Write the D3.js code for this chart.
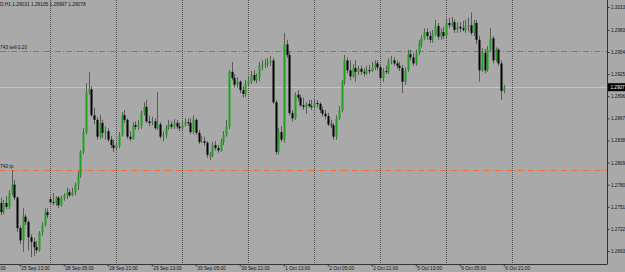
<!DOCTYPE html>
<html>
<head>
<meta charset="utf-8">
<script src="https://cdn.jsdelivr.net/npm/d3@7"></script>
<style>
  html, body { margin: 0; padding: 0; background: #a9a9a9; }
  svg { display: block; font-family: "Liberation Sans", Arial, sans-serif; }
</style>
</head>
<body>
<div class="chart"></div>
<script>
// GBPUSD H1, 25 Sep 06:00 .. 6 Oct 21:00 (one bar per hour, weekend skipped)
var open = [
  1.2756,1.2744,1.2756,1.2751,1.2769,1.2780,1.2763,1.2723,1.2707,1.2738,
  1.2731,1.2711,1.2705,1.2698,1.2694,1.2717,1.2727,1.2744,1.2761,1.2757,
  1.2756,1.2763,1.2753,1.2763,1.2766,1.2770,1.2766,1.2770,1.2780,1.2793,
  1.2823,1.2849,1.2901,1.2905,1.2871,1.2865,1.2843,1.2861,1.2848,1.2850,
  1.2839,1.2832,1.2828,1.2831,1.2845,1.2871,1.2865,1.2843,1.2840,1.2858,
  1.2856,1.2858,1.2874,1.2882,1.2863,1.2861,1.2863,1.2854,1.2859,1.2843,
  1.2845,1.2854,1.2859,1.2856,1.2861,1.2856,1.2854,1.2858,1.2862,1.2861,
  1.2849,1.2865,1.2848,1.2836,1.2837,1.2835,1.2816,1.2819,1.2832,1.2828,
  1.2825,1.2836,1.2845,1.2856,1.2928,1.2920,1.2911,1.2915,1.2904,1.2899,
  1.2912,1.2916,1.2924,1.2917,1.2921,1.2936,1.2937,1.2939,1.2941,1.2943,
  1.2888,1.2823,1.2849,1.2839,1.2964,1.2950,1.2874,1.2867,1.2898,1.2894,
  1.2884,1.2882,1.2886,1.2883,1.2882,1.2887,1.2886,1.2878,1.2873,1.2870,
  1.2859,1.2858,1.2843,1.2867,1.2878,1.2915,1.2943,1.2930,1.2922,1.2933,
  1.2928,1.2932,1.2928,1.2926,1.2930,1.2929,1.2933,1.2939,1.2934,1.2920,
  1.2929,1.2928,1.2942,1.2943,1.2939,1.2936,1.2933,1.2915,1.2930,1.2951,
  1.2947,1.2939,1.2953,1.2966,1.2972,1.2980,1.2975,1.2970,1.2977,1.2988,
  1.2974,1.2980,1.2975,1.2992,1.2989,1.2993,1.2983,1.2987,1.2985,1.2983,
  1.2987,1.2989,1.2979,1.2992,1.2970,1.2930,1.2953,1.2930,1.2957,1.2972,
  1.2943,1.2957,1.2939,1.2903
];
var high = [
  1.2763,1.2760,1.2765,1.2773,1.2799,1.2786,1.2765,1.2726,1.2749,1.2741,
  1.2734,1.2715,1.2710,1.2706,1.2719,1.2731,1.2749,1.2749,1.2765,1.2769,
  1.2765,1.2765,1.2766,1.2769,1.2776,1.2774,1.2776,1.2783,1.2797,1.2825,
  1.2854,1.2913,1.2928,1.2909,1.2881,1.2869,1.2871,1.2865,1.2856,1.2854,
  1.2844,1.2839,1.2836,1.2849,1.2875,1.2878,1.2867,1.2850,1.2862,1.2863,
  1.2865,1.2877,1.2888,1.2891,1.2870,1.2869,1.2867,1.2901,1.2862,1.2850,
  1.2858,1.2865,1.2863,1.2866,1.2865,1.2861,1.2863,1.2867,1.2867,1.2867,
  1.2871,1.2867,1.2852,1.2844,1.2843,1.2837,1.2823,1.2836,1.2837,1.2832,
  1.2840,1.2850,1.2865,1.2930,1.2941,1.2925,1.2921,1.2917,1.2909,1.2917,
  1.2922,1.2929,1.2930,1.2926,1.2941,1.2943,1.2945,1.2946,1.2949,1.2946,
  1.2891,1.2854,1.2857,1.2979,1.2970,1.2954,1.2878,1.2901,1.2904,1.2898,
  1.2894,1.2888,1.2891,1.2891,1.2892,1.2891,1.2888,1.2882,1.2878,1.2874,
  1.2865,1.2861,1.2871,1.2883,1.2917,1.2950,1.2947,1.2943,1.2938,1.2943,
  1.2936,1.2936,1.2933,1.2936,1.2937,1.2941,1.2943,1.2943,1.2938,1.2933,
  1.2936,1.2946,1.2949,1.2947,1.2943,1.2941,1.2937,1.2934,1.2957,1.2957,
  1.2953,1.2957,1.2970,1.2976,1.2985,1.2985,1.2981,1.2983,1.2996,1.2992,
  1.2985,1.2987,1.2997,1.2999,1.3000,1.2997,1.2993,1.2993,1.2995,1.2996,
  1.2999,1.3006,1.2996,1.2996,1.2975,1.2959,1.2958,1.2962,1.2985,1.2975,
  1.2960,1.2959,1.2943,1.2911
];
var low = [
  1.2740,1.2741,1.2748,1.2748,1.2766,1.2760,1.2718,1.2702,1.2692,1.2727,
  1.2694,1.2685,1.2686,1.2690,1.2692,1.2713,1.2725,1.2736,1.2755,1.2753,
  1.2752,1.2749,1.2751,1.2759,1.2761,1.2764,1.2765,1.2766,1.2773,1.2789,
  1.2820,1.2846,1.2898,1.2869,1.2859,1.2839,1.2840,1.2841,1.2839,1.2836,
  1.2828,1.2823,1.2825,1.2828,1.2843,1.2861,1.2840,1.2837,1.2839,1.2852,
  1.2852,1.2853,1.2871,1.2861,1.2857,1.2858,1.2852,1.2852,1.2840,1.2837,
  1.2841,1.2852,1.2853,1.2853,1.2853,1.2850,1.2852,1.2856,1.2857,1.2846,
  1.2846,1.2845,1.2833,1.2835,1.2831,1.2815,1.2812,1.2816,1.2825,1.2822,
  1.2823,1.2832,1.2843,1.2853,1.2917,1.2907,1.2907,1.2900,1.2894,1.2895,
  1.2909,1.2912,1.2915,1.2913,1.2916,1.2930,1.2933,1.2934,1.2936,1.2886,
  1.2819,1.2820,1.2836,1.2835,1.2946,1.2871,1.2863,1.2865,1.2890,1.2882,
  1.2878,1.2873,1.2881,1.2878,1.2879,1.2881,1.2874,1.2869,1.2866,1.2857,
  1.2854,1.2839,1.2839,1.2865,1.2875,1.2911,1.2926,1.2917,1.2920,1.2915,
  1.2924,1.2924,1.2922,1.2924,1.2925,1.2928,1.2930,1.2930,1.2917,1.2915,
  1.2925,1.2925,1.2938,1.2936,1.2932,1.2929,1.2900,1.2911,1.2928,1.2943,
  1.2936,1.2936,1.2950,1.2960,1.2970,1.2970,1.2966,1.2966,1.2975,1.2970,
  1.2970,1.2971,1.2972,1.2985,1.2987,1.2979,1.2979,1.2980,1.2981,1.2979,
  1.2981,1.2976,1.2975,1.2964,1.2915,1.2928,1.2926,1.2928,1.2954,1.2939,
  1.2941,1.2936,1.2891,1.2900
];
var close = [
  1.2744,1.2756,1.2751,1.2769,1.2780,1.2763,1.2723,1.2707,1.2738,1.2731,
  1.2711,1.2705,1.2698,1.2694,1.2717,1.2727,1.2744,1.2740,1.2757,1.2756,
  1.2763,1.2753,1.2763,1.2766,1.2770,1.2766,1.2770,1.2780,1.2793,1.2823,
  1.2849,1.2901,1.2905,1.2871,1.2865,1.2843,1.2861,1.2848,1.2850,1.2839,
  1.2832,1.2828,1.2831,1.2845,1.2871,1.2865,1.2843,1.2840,1.2858,1.2856,
  1.2858,1.2874,1.2882,1.2863,1.2861,1.2863,1.2854,1.2859,1.2843,1.2845,
  1.2854,1.2859,1.2856,1.2861,1.2856,1.2854,1.2858,1.2862,1.2861,1.2849,
  1.2865,1.2848,1.2836,1.2837,1.2835,1.2819,1.2819,1.2832,1.2828,1.2825,
  1.2836,1.2845,1.2856,1.2928,1.2920,1.2911,1.2915,1.2904,1.2899,1.2912,
  1.2916,1.2924,1.2917,1.2921,1.2936,1.2937,1.2939,1.2941,1.2943,1.2888,
  1.2823,1.2849,1.2839,1.2964,1.2950,1.2874,1.2867,1.2898,1.2894,1.2884,
  1.2882,1.2886,1.2883,1.2882,1.2887,1.2886,1.2878,1.2873,1.2870,1.2859,
  1.2858,1.2843,1.2867,1.2878,1.2915,1.2943,1.2930,1.2922,1.2933,1.2928,
  1.2932,1.2928,1.2926,1.2930,1.2929,1.2933,1.2939,1.2934,1.2920,1.2929,
  1.2928,1.2942,1.2943,1.2939,1.2936,1.2933,1.2915,1.2930,1.2951,1.2947,
  1.2939,1.2953,1.2966,1.2972,1.2980,1.2975,1.2970,1.2977,1.2988,1.2974,
  1.2980,1.2975,1.2992,1.2989,1.2993,1.2983,1.2987,1.2985,1.2983,1.2987,
  1.2989,1.2979,1.2992,1.2970,1.2930,1.2953,1.2930,1.2957,1.2972,1.2943,
  1.2957,1.2939,1.2903,1.2908
];

// bottom time labels (bar index -> label), day separators (bar index)
var timeBars   = [-9, 7, 23, 39, 55, 71, 87, 103, 119, 135, 151, 167, 183];
var timeLabels = ["24 Sep 21:00","25 Sep 13:00","28 Sep 05:00","28 Sep 21:00","29 Sep 13:00",
                  "30 Sep 05:00","30 Sep 21:00","1 Oct 13:00","2 Oct 05:00","2 Oct 21:00",
                  "5 Oct 13:00","6 Oct 05:00","6 Oct 21:00"];
var dayBars = [18, 42, 66, 90, 114, 138, 162, 186];

// right price scale labels
var priceTicks = [1.2693,1.2722,1.2751,1.2780,1.2809,1.2838,1.2867,1.2896,1.2925,1.2954,1.2983,1.3013];

// order lines and current bid
var sellLevel = 1.2955, tpLevel = 1.2799, bidPrice = 1.29078;
var header = "D,H1  1.29031 1.29105 1.28997 1.29078";

var W = 625, H = 272, axisX = 607, axisY = 264;

var svg = d3.select(".chart").append("svg")
  .attr("width", W).attr("height", H);

svg.append("rect").attr("width", W).attr("height", H).attr("fill", "#a9a9a9");

var x = d3.scaleLinear().domain([0, 186]).range([0.5, 512]);
var y = d3.scaleLinear().domain([1.2693, 1.3013]).range([251, 7]);

var plot = svg.append("g");
svg.append("clipPath").attr("id", "clip")
  .append("rect").attr("width", axisX).attr("height", axisY);
plot.attr("clip-path", "url(#clip)");

// vertical dotted grid
plot.selectAll(".grid").data(dayBars).enter().append("line")
  .attr("x1", function(d){ return Math.round(x(d)) + 0.5; })
  .attr("x2", function(d){ return Math.round(x(d)) + 0.5; })
  .attr("y1", 0).attr("y2", axisY)
  .attr("stroke", "#555").attr("stroke-dasharray", "1,1");

// order lines
plot.append("line")
  .attr("x1", 0).attr("x2", axisX)
  .attr("y1", Math.round(y(sellLevel)) + 0.5).attr("y2", Math.round(y(sellLevel)) + 0.5)
  .attr("stroke", "#4f9a4f").attr("stroke-dasharray", "6,2,1,2");
plot.append("line")
  .attr("x1", 0).attr("x2", axisX)
  .attr("y1", Math.round(y(tpLevel)) + 0.5).attr("y2", Math.round(y(tpLevel)) + 0.5)
  .attr("stroke", "#ee7040").attr("stroke-dasharray", "6,2,1,2");
plot.append("line")
  .attr("x1", 0).attr("x2", axisX)
  .attr("y1", Math.round(y(bidPrice)) + 0.5).attr("y2", Math.round(y(bidPrice)) + 0.5)
  .attr("stroke", "#c4c4c4");

plot.append("text").attr("x", 0).attr("y", y(sellLevel) - 2)
  .attr("font-size", "4.8px").attr("fill", "#111").text("743 sell 0.20");
plot.append("text").attr("x", 0).attr("y", y(tpLevel) - 2)
  .attr("font-size", "4.8px").attr("fill", "#111").text("743 tp");

// candles
var bars = d3.range(open.length);
plot.selectAll(".wick").data(bars).enter().append("line")
  .attr("x1", function(i){ return Math.round(x(i)) + 0.5; })
  .attr("x2", function(i){ return Math.round(x(i)) + 0.5; })
  .attr("y1", function(i){ return y(high[i]); })
  .attr("y2", function(i){ return y(low[i]); })
  .attr("stroke", "#5a5a5a").attr("stroke-width", 1);

plot.selectAll(".body").data(bars).enter().append("rect")
  .attr("x", function(i){ return Math.round(x(i)) - 0.5; })
  .attr("width", 2)
  .attr("y", function(i){ return y(Math.max(open[i], close[i])); })
  .attr("height", function(i){ return Math.max(1, Math.abs(y(open[i]) - y(close[i]))); })
  .attr("fill", function(i){ return close[i] >= open[i] ? "#1fa31f" : "#000"; });

// header text
svg.append("text").attr("x", 0).attr("y", 6)
  .attr("font-size", "4.8px").attr("fill", "#111").text(header);

// right axis
var yAxis = d3.axisRight(y).tickValues(priceTicks)
  .tickFormat(d3.format(".4f")).tickSize(2).tickPadding(1.5);
var ya = svg.append("g").attr("transform", "translate(" + (axisX + 0.5) + ",0)").call(yAxis);
ya.select(".domain").attr("d", "M0,0V" + axisY).attr("stroke", "#333");
ya.selectAll(".tick line").attr("stroke", "#333");
ya.selectAll(".tick text").attr("font-size", "4.6px").attr("fill", "#111")
  .attr("font-family", "Liberation Sans, Arial, sans-serif");

// bid label box
var by = y(bidPrice);
svg.append("rect").attr("x", axisX + 1).attr("y", by - 4).attr("width", 18).attr("height", 8).attr("fill", "#000");
svg.append("text").attr("x", axisX + 3.5).attr("y", by + 1.7)
  .attr("font-size", "4.6px").attr("fill", "#fff").text(d3.format(".4f")(Math.floor(bidPrice * 10000) / 10000));

// bottom axis
var xAxis = d3.axisBottom(x).tickValues(timeBars)
  .tickFormat(function(d, i){ return timeLabels[i]; }).tickSize(2).tickPadding(1);
var xa = svg.append("g").attr("transform", "translate(0," + (axisY + 0.5) + ")").call(xAxis);
xa.select(".domain").attr("d", "M0,0H" + (axisX + 0.5)).attr("stroke", "#333");
xa.selectAll(".tick line").attr("stroke", "#333");
xa.selectAll(".tick text").attr("font-size", "4.8px").attr("fill", "#111")
  .attr("font-family", "Liberation Sans, Arial, sans-serif")
  .attr("text-anchor", "start").attr("x", 1).attr("dy", "0.45em");
</script>
</body>
</html>
